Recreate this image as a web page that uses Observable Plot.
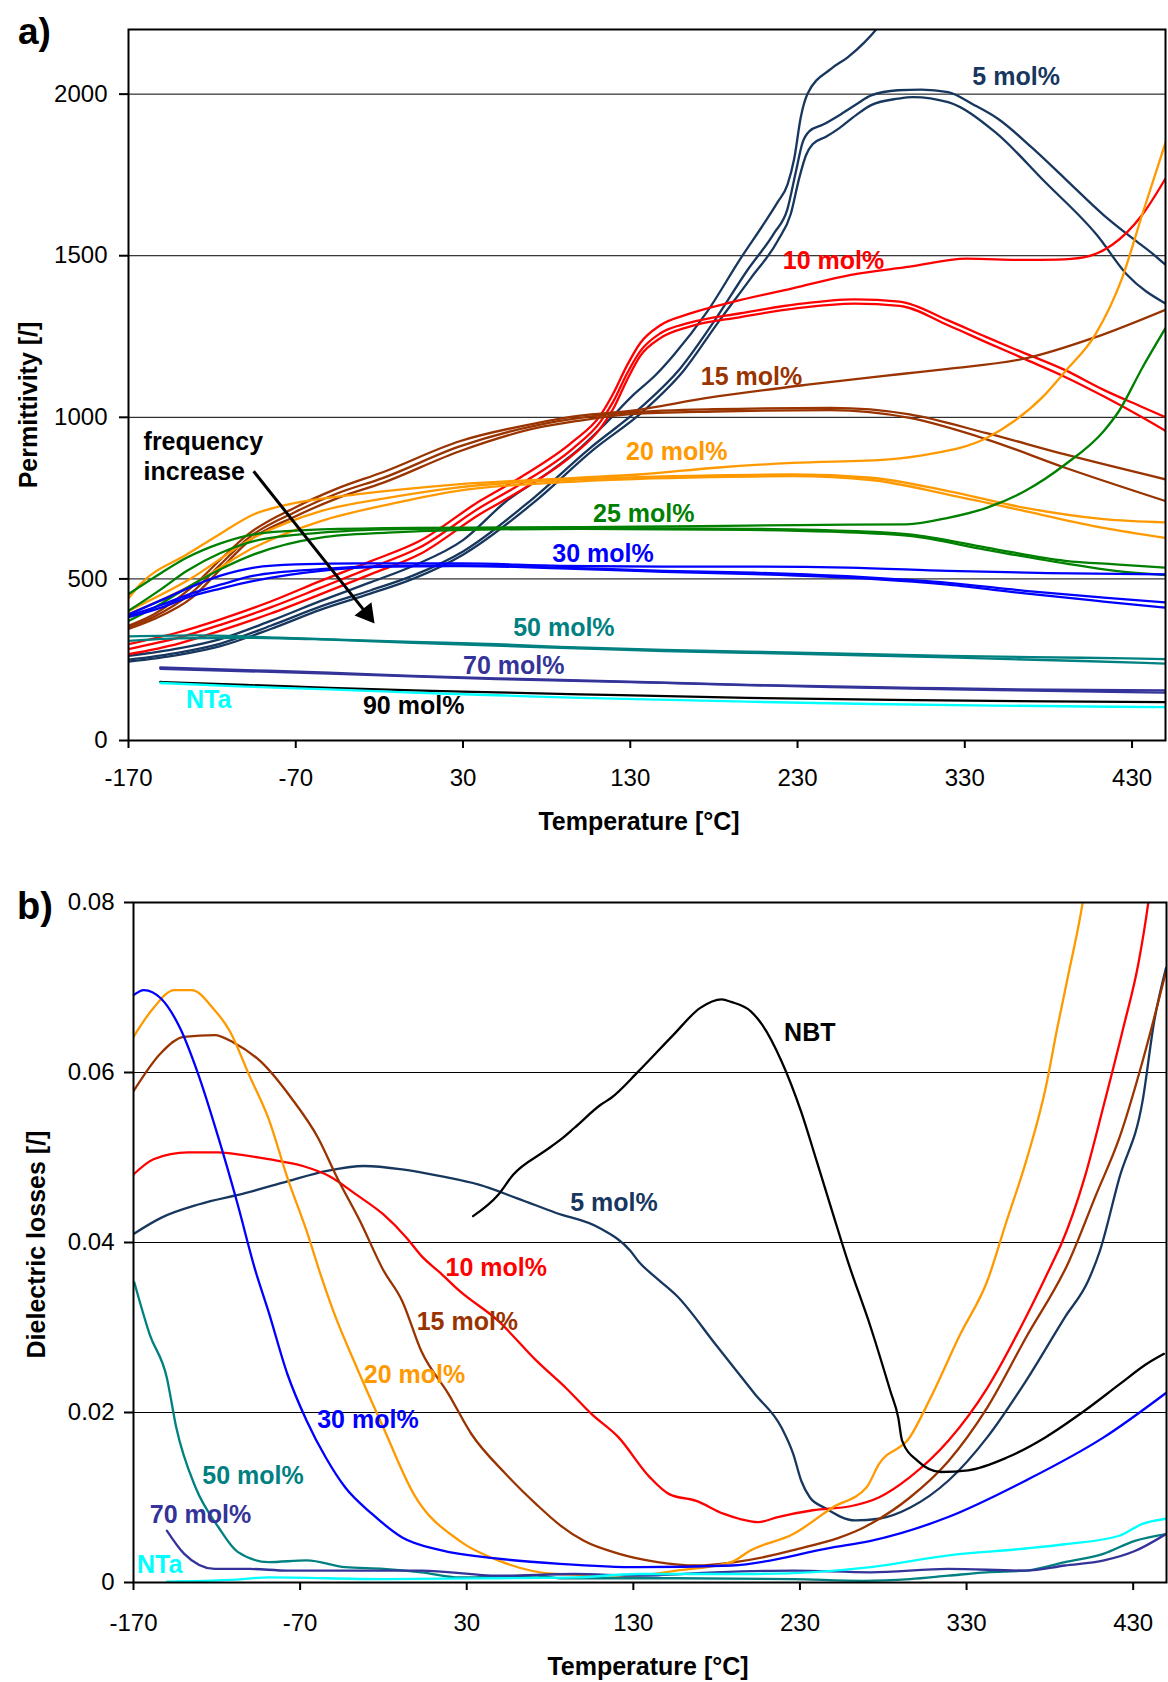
<!DOCTYPE html>
<html>
<head>
<meta charset="utf-8">
<script src="https://cdn.jsdelivr.net/npm/d3@7"></script>
<script src="https://cdn.jsdelivr.net/npm/@observablehq/plot@0.6"></script>
<style>
  html, body { margin: 0; padding: 0; background: #fff; }
  svg { display: block; }
</style>
</head>
<body>
<div id="chart"></div>
<script>
// ---------- Panel a) permittivity, [temperature °C, permittivity] ----------
const perm5_1 = [[-170,262],[-140,285],[-115,314],[-85,370],[-55,432],[-25,490],[0,540],[30,620],[56,741],[80,825],[100,905],[116,985],[132,1070],[145,1130],[156,1193],[176,1327],[196,1492],[210,1600],[218,1665],[224,1720],[228,1800],[232,1930],[236,2001],[250,2078],[260,2114],[270,2160],[277,2200],[280,2220]];
const perm5_2 = [[-170,250],[-140,272],[-115,300],[-85,355],[-55,415],[-25,465],[0,510],[30,585],[70,741],[106,905],[136,1029],[160,1152],[180,1296],[200,1455],[216,1570],[224,1645],[229,1760],[233,1850],[237,1885],[245,1905],[255,1935],[265,1968],[274,1996],[290,2012],[304,2014],[320,2006],[335,1968],[350,1923],[370,1835],[390,1738],[413,1626],[430,1555],[443,1503],[450,1472]];
const perm5_3 = [[-170,244],[-140,265],[-115,292],[-85,345],[-55,405],[-25,455],[0,500],[30,575],[72,735],[108,900],[138,1020],[162,1145],[182,1290],[202,1430],[218,1545],[226,1630],[231,1740],[235,1810],[239,1845],[247,1868],[255,1895],[265,1935],[274,1966],[290,1986],[299,1991],[320,1975],[348,1883],[378,1728],[409,1564],[427,1441],[450,1352]];
const perm10_1 = [[-170,298],[-140,335],[-115,375],[-85,430],[-55,494],[-25,555],[4,617],[40,741],[64,813],[96,926],[112,1005],[120,1075],[128,1160],[136,1230],[148,1285],[165,1320],[192,1358],[227,1399],[262,1441],[297,1466],[331,1491],[366,1487],[385,1488],[401,1495],[418,1533],[436,1626],[450,1739]];
const perm10_2 = [[-170,283],[-140,318],[-115,358],[-85,412],[-55,473],[-25,535],[4,597],[40,720],[64,792],[96,905],[112,985],[120,1050],[128,1135],[136,1205],[148,1260],[165,1292],[196,1322],[230,1350],[264,1365],[291,1358],[320,1300],[343,1248],[366,1198],[390,1146],[413,1085],[436,1032],[450,1000]];
const perm10_3 = [[-170,267],[-140,300],[-115,340],[-85,393],[-55,453],[-25,515],[4,576],[40,700],[64,772],[96,885],[112,965],[120,1028],[128,1115],[136,1190],[148,1245],[165,1280],[196,1310],[230,1338],[264,1352],[291,1345],[320,1285],[343,1232],[366,1180],[390,1125],[413,1065],[436,1000],[450,958]];
const perm15_1 = [[-170,355],[-155,390],[-132,475],[-115,560],[-98,640],[-70,722],[-45,780],[-18,830],[28,926],[74,982],[100,1005],[130,1020],[176,1060],[236,1101],[292,1134],[320,1150],[367,1183],[406,1244],[450,1333]];
const perm15_2 = [[-170,350],[-155,382],[-132,458],[-115,545],[-98,628],[-70,708],[-45,765],[-18,812],[28,910],[74,975],[100,998],[130,1015],[180,1025],[250,1029],[297,1009],[343,951],[390,885],[450,808]];
const perm15_3 = [[-170,345],[-155,375],[-132,442],[-115,530],[-98,617],[-70,694],[-45,750],[-18,797],[28,895],[74,967],[100,990],[130,1010],[180,1018],[250,1022],[297,998],[343,932],[390,844],[450,741]];
const perm20_1 = [[-170,440],[-163,483],[-135,576],[-115,640],[-95,700],[-75,730],[-35,761],[25,792],[100,813],[135,823],[181,844],[227,859],[285,870],[308,885],[343,936],[360,990],[376,1060],[390,1142],[408,1256],[424,1430],[436,1626],[450,1850]];
const perm20_2 = [[-170,401],[-135,494],[-95,628],[-55,710],[-15,751],[25,782],[100,808],[180,820],[227,823],[274,813],[320,772],[366,720],[413,685],[450,675]];
const perm20_3 = [[-170,391],[-135,473],[-95,597],[-55,679],[-15,730],[25,771],[100,802],[180,815],[227,818],[274,806],[320,761],[366,710],[413,658],[450,627]];
const perm25_1 = [[-170,453],[-150,520],[-135,566],[-115,610],[-95,638],[-55,653],[0,658],[100,660],[200,665],[260,668],[295,669],[320,689],[343,720],[366,772],[390,854],[413,957],[422,1018],[436,1152],[450,1276]];
const perm25_2 = [[-170,401],[-150,470],[-135,525],[-115,580],[-95,617],[-55,643],[0,655],[100,658],[200,655],[250,650],[297,638],[343,597],[390,556],[420,545],[450,535]];
const perm25_3 = [[-170,370],[-150,425],[-135,473],[-115,530],[-95,576],[-55,628],[-15,643],[25,651],[100,655],[200,652],[250,646],[297,633],[343,590],[390,548],[420,525],[450,512]];
const perm30_1 = [[-170,390],[-150,435],[-135,470],[-115,510],[-95,535],[-70,545],[-30,548],[30,548],[88,540],[150,538],[204,538],[260,535],[320,525],[380,518],[450,514]];
const perm30_2 = [[-170,386],[-150,420],[-135,450],[-115,482],[-95,510],[-55,530],[-15,540],[30,542],[88,535],[150,525],[204,519],[274,504],[320,488],[366,463],[413,442],[450,427]];
const perm30_3 = [[-170,382],[-150,412],[-135,442],[-115,470],[-95,494],[-55,525],[-15,538],[30,540],[88,533],[150,522],[204,515],[274,500],[320,482],[366,455],[413,430],[450,411]];
const perm50_1 = [[-170,322],[-130,325],[-80,318],[0,305],[50,298],[88,290],[150,280],[230,272],[320,262],[400,256],[450,252]];
const perm50_2 = [[-170,308],[-140,316],[-100,318],[-50,312],[0,302],[88,287],[150,277],[230,268],[320,257],[400,246],[450,238]];
const perm70_1 = [[-151,226],[-100,218],[-50,210],[0,200],[50,192],[100,186],[200,172],[300,163],[380,157],[450,155]];
const perm70_2 = [[-151,222],[-50,207],[50,190],[150,178],[250,165],[350,156],[450,148]];
const perm90 = [[-151,181],[-100,172],[-50,163],[0,155],[50,149],[100,143],[200,132],[300,125],[380,121],[450,119]];
const permNTa = [[-151,178],[-100,167],[-50,158],[0,148],[50,140],[100,132],[200,120],[274,113],[350,108],[450,103]];

// ---------- Panel b) dielectric losses, [temperature °C, tan δ] ----------
const loss5 = [[-170,0.041],[-153.5,0.0429],[-130.5,0.0445],[-103,0.0458],[-77.6,0.0472],[-54.6,0.0484],[-31.6,0.049],[-8.7,0.0486],[14.3,0.0478],[37.3,0.0468],[60.3,0.0452],[83.3,0.0435],[109.7,0.0417],[128.3,0.039],[133,0.0378],[144.6,0.0357],[156.2,0.0337],[179.4,0.028],[202.8,0.0222],[219,0.0182],[226,0.0151],[230.7,0.012],[236,0.0100],[244.7,0.0088],[263.3,0.0073],[277.3,0.0075],[296,0.0088],[319.2,0.012],[342.5,0.0171],[365.6,0.0237],[389,0.0312],[403,0.0355],[410,0.039],[421.7,0.0476],[435.6,0.0566],[442.6,0.066],[449.7,0.0723]];
const loss10 = [[-170,0.048],[-158,0.0498],[-137.4,0.0506],[-119,0.0506],[-105,0.0503],[-89,0.0498],[-68.4,0.049],[-52.4,0.0478],[-36,0.0456],[-20,0.0433],[-6.3,0.0406],[2.9,0.0384],[14.3,0.0364],[25.7,0.0343],[48.8,0.0308],[71.8,0.0261],[90,0.0228],[105,0.0198],[121,0.0171],[139.8,0.0124],[151.5,0.0104],[167.8,0.0096],[184,0.0081],[193.5,0.0075],[205,0.0071],[216.7,0.0077],[237.7,0.0085],[261,0.009],[277.3,0.01],[296,0.0124],[319.2,0.0167],[342.5,0.0229],[365.6,0.0312],[382,0.0378],[386.8,0.0398],[400.8,0.0476],[412.4,0.0562],[424,0.0652],[433.3,0.073],[439,0.0799],[441,0.083]];
const loss15 = [[-170,0.0578],[-153.5,0.0623],[-139.7,0.0642],[-121.3,0.0644],[-109.8,0.0635],[-93.7,0.0613],[-75.3,0.057],[-59.2,0.0523],[-47.7,0.0476],[-34,0.0425],[-20.2,0.0368],[-8.7,0.0331],[2.8,0.0272],[19,0.0222],[32.7,0.0175],[53.3,0.0128],[71.8,0.0092],[86.3,0.0067],[100.3,0.0049],[121,0.0034],[144.6,0.0024],[167.8,0.002],[191,0.0024],[226,0.0038],[272.5,0.0069],[296,0.01],[319.2,0.0143],[342.5,0.0206],[365.6,0.0288],[391.5,0.0378],[407.7,0.0456],[421.7,0.0523],[435.6,0.0613],[449.7,0.0719]];
const loss20 = [[-170,0.0642],[-158,0.0676],[-145.5,0.0697],[-135,0.0697],[-122.4,0.0676],[-112,0.0648],[-100.6,0.0597],[-89,0.0546],[-77.6,0.0476],[-66,0.0413],[-57,0.0358],[-50,0.0319],[-36,0.0253],[-20,0.0182],[-1.8,0.0104],[25.7,0.0049],[48.8,0.0026],[83.3,0.001],[128,0.0008],[156,0.0014],[188.8,0.0024],[200.5,0.0038],[226,0.0057],[249.4,0.0088],[270,0.0112],[277.3,0.0139],[296,0.0171],[307.6,0.0214],[326.2,0.0292],[342.5,0.0355],[354,0.0425],[365.8,0.0496],[377.5,0.0582],[384.4,0.0652],[391.5,0.0719],[399.6,0.0799],[402,0.083]];
const loss30 = [[-170,0.0691],[-163.8,0.0697],[-153.5,0.0687],[-142,0.0652],[-131.7,0.0601],[-119,0.0523],[-107.5,0.0445],[-97,0.0368],[-89,0.0319],[-77.6,0.0245],[-66,0.019],[-54.6,0.0147],[-43,0.0112],[-27,0.0081],[-8.7,0.0053],[14.3,0.0038],[48.8,0.0028],[86,0.0022],[133,0.0018],[189,0.002],[249,0.0041],[272.5,0.0049],[319,0.0077],[365.6,0.012],[412.5,0.0171],[449.7,0.0223]];
const loss50 = [[-169.5,0.0353],[-160.3,0.0292],[-150,0.0241],[-144.3,0.0182],[-132.8,0.0112],[-119,0.0065],[-107.5,0.0036],[-89,0.0024],[-66,0.0026],[-43,0.0018],[-20,0.0016],[2.8,0.0012],[25.7,0.0006],[71.8,0.0008],[86,0.0005],[156,0.0005],[226,0.0004],[268,0.0002],[296,0.0004],[319,0.0008],[342,0.0012],[365.6,0.0014],[389,0.0024],[412.5,0.0034],[431,0.0049],[449.7,0.0057]];
const loss70 = [[-150,0.0061],[-139.7,0.0034],[-121.3,0.0016],[-100.6,0.0016],[-77.6,0.0014],[-43,0.0014],[2.8,0.0014],[48.8,0.0008],[94.8,0.001],[133,0.0008],[179,0.0012],[226,0.0014],[272.5,0.0012],[319,0.0016],[365.6,0.0014],[389,0.002],[412.5,0.0026],[431,0.0037],[449.7,0.0057]];
const lossNBT = [[33.8,0.0431],[48.8,0.0456],[58,0.048],[76.4,0.0507],[86.3,0.0521],[94.7,0.0535],[110.4,0.0562],[116.6,0.057],[132.9,0.0601],[153.9,0.0644],[170.2,0.0676],[183,0.0686],[188.8,0.0683],[200.5,0.0672],[207.4,0.0656],[219,0.0613],[230.7,0.0554],[240,0.0496],[249.3,0.0437],[258.7,0.0378],[272.5,0.03],[284.3,0.0225],[289,0.0194],[291.3,0.0167],[300.6,0.0143],[314.6,0.013],[331,0.0132],[354.2,0.0147],[377.5,0.0171],[400.8,0.0202],[421.7,0.0233],[438,0.0257],[448.5,0.0269]];
const lossNTa = [[-150,0.0001],[-112,0.0003],[-89,0.0006],[-20,0.0004],[49,0.0005],[95,0.0006],[133,0.001],[203,0.001],[272.5,0.0018],[319.2,0.0032],[365.6,0.004],[389,0.0045],[421.7,0.0055],[435.6,0.0069],[449.7,0.0075]];

// ---------- categories, ticks, labels ----------
const groupNames  = ["5 mol%","10 mol%","15 mol%","20 mol%","25 mol%","30 mol%","50 mol%","70 mol%","90 mol%","NTa","NBT"];
const groupColors = ["#17375E","#FF0000","#993300","#FF9900","#008000","#0000FF","#008080","#333399","#000000","#00FFFF","#000000"];
const tempTicks = [-170,-70,30,130,230,330,430];
const permTicks = [0,500,1000,1500,2000];
const lossTicks = [0,0.02,0.04,0.06,0.08];

const permLabels = [
  {text:"5 mol%",  T:360.7, v:2052, group:"5 mol%"},
  {text:"10 mol%", T:251.5, v:1483, group:"10 mol%"},
  {text:"15 mol%", T:202.5, v:1124, group:"15 mol%"},
  {text:"20 mol%", T:157.8, v:892,  group:"20 mol%"},
  {text:"25 mol%", T:138.1, v:700,  group:"25 mol%"},
  {text:"30 mol%", T:113.7, v:576,  group:"30 mol%"},
  {text:"50 mol%", T:90.3,  v:347,  group:"50 mol%"},
  {text:"70 mol%", T:60.3,  v:229,  group:"70 mol%"},
  {text:"NTa",     T:-122.1,v:126,  group:"NTa"},
  {text:"90 mol%", T:0.5,   v:106,  group:"90 mol%"}
];
const freqText = [{text:"frequency", T:-161, v:924},{text:"increase", T:-161, v:831}];
const freqArrow = [{T1:-95.2, v1:833, T2:-27.5, v2:392}];
const freqArrowTip = [{T:-27.5, v:392}];

const lossLabels = [
  {text:"NBT",     T:235.9,  v:0.0646, group:"NBT"},
  {text:"5 mol%",  T:118.4,  v:0.0446, group:"5 mol%"},
  {text:"10 mol%", T:47.7,   v:0.0370, group:"10 mol%"},
  {text:"15 mol%", T:30.4,   v:0.0307, group:"15 mol%"},
  {text:"20 mol%", T:-1.3,   v:0.0244, group:"20 mol%"},
  {text:"30 mol%", T:-29.3,  v:0.0191, group:"30 mol%"},
  {text:"50 mol%", T:-98.3,  v:0.0125, group:"50 mol%"},
  {text:"70 mol%", T:-129.8, v:0.0080, group:"70 mol%"},
  {text:"NTa",     T:-154.3, v:0.0021, group:"NTa"}
];

const permSeries = [
  ["5 mol%", [perm5_1, perm5_2, perm5_3]],
  ["10 mol%", [perm10_1, perm10_2, perm10_3]],
  ["15 mol%", [perm15_1, perm15_2, perm15_3]],
  ["20 mol%", [perm20_1, perm20_2, perm20_3]],
  ["25 mol%", [perm25_1, perm25_2, perm25_3]],
  ["30 mol%", [perm30_1, perm30_2, perm30_3]],
  ["50 mol%", [perm50_1, perm50_2]],
  ["70 mol%", [perm70_1, perm70_2]],
  ["90 mol%", [perm90]],
  ["NTa", [permNTa]]
];
const lossSeries = [
  ["5 mol%", [loss5]], ["10 mol%", [loss10]], ["15 mol%", [loss15]], ["20 mol%", [loss20]],
  ["30 mol%", [loss30]], ["50 mol%", [loss50]], ["70 mol%", [loss70]], ["NBT", [lossNBT]], ["NTa", [lossNTa]]
];

function toRows(series) {
  return series.flatMap(([group, curves]) =>
    curves.flatMap((pts, i) => pts.map(([T, v]) => ({T, v, group, key: group + "#" + i}))));
}
const permRows = toRows(permSeries);
const lossRows = toRows(lossSeries);

const FONT = '"Liberation Sans", Arial, Helvetica, sans-serif';
const colorScale = {domain: groupNames, range: groupColors};
const LW = 2.3;

const plotA = Plot.plot({
  width: 1168, height: 850,
  marginLeft: 128, marginRight: 3, marginTop: 29, marginBottom: 110,
  style: {fontFamily: FONT, fontSize: "24px", color: "black", background: "white", overflow: "visible"},
  x: {domain: [-170, 450], axis: null},
  y: {domain: [0, 2200], axis: null},
  color: colorScale,
  marks: [
    Plot.gridY([500, 1000, 1500, 2000], {stroke: "black", strokeOpacity: 1, strokeWidth: 1}),
    Plot.line(permRows, {x: "T", y: "v", z: "key", stroke: "group", strokeWidth: LW, curve: "monotone-x", clip: true}),
    Plot.frame({stroke: "black", strokeWidth: 2}),
    Plot.axisX(tempTicks, {tickSize: 8, tickPadding: 20, strokeWidth: 2, label: null, tickFormat: d => String(d)}),
    Plot.axisY(permTicks, {tickSize: 9, tickPadding: 12, strokeWidth: 2, label: null, tickFormat: d => String(d)}),
    Plot.text(permLabels, {x: "T", y: "v", text: "text", fill: "group", fontWeight: "bold", fontSize: 25}),
    Plot.text(freqText, {x: "T", y: "v", text: "text", fill: "black", fontWeight: "bold", fontSize: 25, textAnchor: "start"}),
    Plot.link(freqArrow, {x1: "T1", y1: "v1", x2: "T2", y2: "v2", stroke: "black", strokeWidth: 3}),
    Plot.dot(freqArrowTip, {x: "T", y: "v", symbol: "triangle", r: 8, fill: "black", stroke: "none", rotate: 141.7}),
    Plot.text(["Temperature [°C]"], {text: d => d, frameAnchor: "bottom", textAnchor: "middle", lineAnchor: "middle", dx: -8, dy: 81, fontWeight: "bold", fontSize: 25}),
    Plot.text(["Permittivity [/]"], {text: d => d, frameAnchor: "left", textAnchor: "middle", lineAnchor: "middle", rotate: -90, dx: -100, dy: 20, fontWeight: "bold", fontSize: 25}),
    Plot.text(["a)"], {text: d => d, frameAnchor: "top-left", textAnchor: "middle", lineAnchor: "middle", dx: -94, dy: 3, fontWeight: "bold", fontSize: 37})
  ]
});

const plotB = Plot.plot({
  width: 1168, height: 832,
  marginLeft: 133, marginRight: 2, marginTop: 52, marginBottom: 100,
  style: {fontFamily: FONT, fontSize: "24px", color: "black", background: "white", overflow: "visible"},
  x: {domain: [-170, 450], axis: null},
  y: {domain: [0, 0.08], axis: null},
  color: colorScale,
  marks: [
    Plot.gridY([0.02, 0.04, 0.06], {stroke: "black", strokeOpacity: 1, strokeWidth: 1}),
    Plot.line(lossRows, {x: "T", y: "v", z: "key", stroke: "group", strokeWidth: LW, curve: "monotone-x", clip: true}),
    Plot.frame({stroke: "black", strokeWidth: 2}),
    Plot.axisX(tempTicks, {tickSize: 8, tickPadding: 23, strokeWidth: 2, label: null, tickFormat: d => String(d)}),
    Plot.axisY(lossTicks, {tickSize: 9, tickPadding: 10, strokeWidth: 2, label: null, tickFormat: d => d === 0 ? "0" : d.toFixed(2)}),
    Plot.text(lossLabels, {x: "T", y: "v", text: "text", fill: "group", fontWeight: "bold", fontSize: 25}),
    Plot.text(["Temperature [°C]"], {text: d => d, frameAnchor: "bottom", textAnchor: "middle", lineAnchor: "middle", dx: -2, dy: 84, fontWeight: "bold", fontSize: 25}),
    Plot.text(["Dielectric losses [/]"], {text: d => d, frameAnchor: "left", textAnchor: "middle", lineAnchor: "middle", rotate: -90, dx: -97, dy: 2, fontWeight: "bold", fontSize: 25}),
    Plot.text(["b)"], {text: d => d, frameAnchor: "top-left", textAnchor: "middle", lineAnchor: "middle", dx: -98.5, dy: 4, fontWeight: "bold", fontSize: 38})
  ]
});

const root = document.getElementById("chart");
root.appendChild(plotA);
root.appendChild(plotB);
</script>
</body>
</html>
